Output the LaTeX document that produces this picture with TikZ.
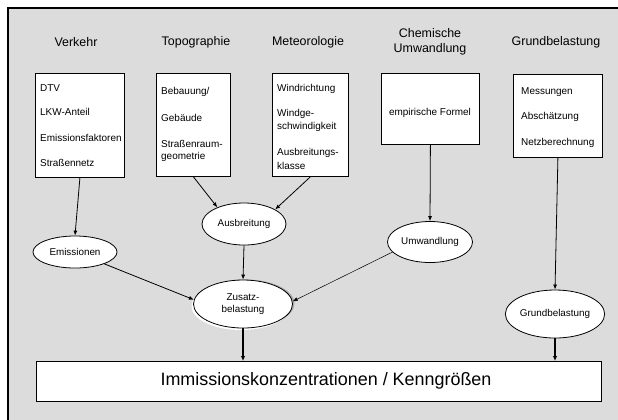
\documentclass[tikz,border=0pt]{standalone}
\usepackage{fontspec}
\setmainfont{Liberation Sans}
\usetikzlibrary{shapes.geometric,arrows.meta}
\definecolor{panel}{HTML}{DCDCDC}
\definecolor{rimshade}{HTML}{A8A8A8}
\begin{document}
\begin{tikzpicture}[x=1bp,y=-1bp,
  head/.style={font=\fontsize{12.5}{15}\selectfont,align=center,inner sep=0},
  inbox/.style={draw=black,line width=0.8bp,fill=white,inner sep=0,anchor=north west},
  item/.style={font=\fontsize{10}{12}\selectfont,anchor=west,inner sep=0,align=left},
  oval/.style={ellipse,draw=black,line width=0.8bp,fill=white,inner sep=0,
               font=\fontsize{9.9}{12}\selectfont,align=center},
  flow/.style={line width=0.8bp,-{Latex[length=5bp,width=4bp]}},
  thinflow/.style={line width=0.5bp,-{Latex[length=5bp,width=4bp]}},
  heavy/.style={line width=2bp,-{Latex[length=5bp,width=4.5bp]}}]
\useasboundingbox (0,0) rectangle (618,419);
% panel with visible top and left frame
\draw[line width=2.2bp,fill=panel] (8,8) rectangle (640,440);

% column headings
\node[head] (hVerkehr) at (76,42) {Verkehr};
\node[head] (hTopo) at (196,42) {Topographie};
\node[head] (hMeteo) at (308,42) {Meteorologie};
\node[head] (hChem) at (430,42) {Chemische\\Umwandlung};
\node[head] (hGrund) at (556,42) {Grundbelastung};

% input boxes
\node[inbox,minimum width=89bp,minimum height=104bp] (bVerkehr) at (35,73) {};
\node[item] (v1) at (40,88) {DTV};
\node[item] (v2) at (40,112) {LKW-Anteil};
\node[item] (v3) at (40,138) {Emissionsfaktoren};
\node[item] (v4) at (40,163) {Straßennetz};

\node[inbox,minimum width=74bp,minimum height=103bp] (bTopo) at (156,73) {};
\node[item] (t1) at (161,92) {Bebauung/};
\node[item] (t2) at (161,118) {Gebäude};
\node[item] (t3) at (161,144) {Straßenraum-};
\node[item] (t4) at (161,157) {geometrie};

\node[inbox,minimum width=76bp,minimum height=103bp] (bMeteo) at (272,73) {};
\node[item] (m1) at (277,89) {Windrichtung};
\node[item] (m2) at (277,114) {Windge-};
\node[item] (m3) at (277,127) {schwindigkeit};
\node[item] (m4) at (277,153) {Ausbreitungs-};
\node[item] (m5) at (277,166) {klasse};

\node[inbox,minimum width=98bp,minimum height=71bp] (bChem) at (381,73) {};
\node[item,anchor=center] (c1) at (430,113) {empirische Formel};

\node[inbox,minimum width=89bp,minimum height=83bp] (bGrund) at (513,74) {};
\node[item] (g1) at (521,92) {Messungen};
\node[item] (g2) at (521,117) {Abschätzung};
\node[item] (g3) at (521,143) {Netzberechnung};

% intermediate results
\node[oval,minimum width=84bp,minimum height=32bp] (emis) at (75,252) {Emissionen};
\node[oval,minimum width=84bp,minimum height=42bp] (ausb) at (244,224) {Ausbreitung};
\node[oval,minimum width=85bp,minimum height=41bp] (umw) at (430,242) {Umwandlung};
% soft rim behind the combined-load ellipse
\fill[rimshade] (245,303.5) ellipse [x radius=49.5bp,y radius=24bp];
\fill[white] (241,306) ellipse [x radius=49.5bp,y radius=24bp];
\node[oval,minimum width=99bp,minimum height=48bp] (zus) at (243,304) {Zusatz-\\belastung};
\node[oval,minimum width=85bp,minimum height=48bp] (grund) at (555,314) {Grundbelastung};

% result bar
\node[draw=black,line width=0.8bp,fill=white,inner sep=0,anchor=north west,
      minimum width=565bp,minimum height=40bp] (result) at (36,361) {};
\node[font=\fontsize{18}{21}\selectfont,inner sep=0] (resText) at (326,381)
  {Immissionskonzentrationen / Kenngrößen};

% connectors
\draw[flow] (bVerkehr.south) -- (emis.north);
\draw[flow] (bTopo.south) -- (ausb.148);
\draw[flow] (bMeteo.south) -- (ausb.25);
\draw[flow] (bChem.south) -- (umw.north);
\draw[flow] (bGrund.south) -- (grund.north);
\draw[flow] (ausb.south) -- (zus.north);
\draw[flow] (emis.-22) -- (zus.175);
\draw[thinflow] (umw.-165) -- (zus.3);
\draw[heavy] (zus.south) -- (zus.south |- result.north);
\draw[heavy] (grund.south) -- (grund.south |- result.north);
\end{tikzpicture}
\end{document}
